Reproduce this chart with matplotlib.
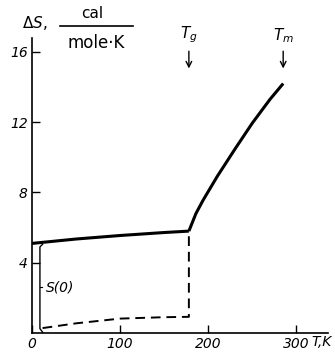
import matplotlib
matplotlib.use("Agg")
import matplotlib.pyplot as plt

# glass curve (solid): entropy of the glass / liquid
glass_T = [0, 50, 100, 150, 178]
glass_S = [5.1, 5.35, 5.55, 5.72, 5.8]
liquid_T = [178, 186, 194, 210, 230, 250, 270, 285]
liquid_S = [5.8, 6.8, 7.55, 8.9, 10.45, 11.95, 13.3, 14.2]

# crystal curve (dashed)
cryst_T = [12, 50, 100, 150, 178, 178]
cryst_S = [0.28, 0.55, 0.82, 0.9, 0.92, 5.8]

x_ticks = [0, 100, 200, 300]
y_ticks = [4, 8, 12, 16]
Tg = 178
Tm = 285


def main():
    fig = plt.figure(figsize=(3.35, 3.56), dpi=100)
    ax = fig.add_axes([0.0955, 0.0646, 0.884, 0.829])

    ax.plot(glass_T, glass_S, color='black', lw=2.2, solid_capstyle='butt')
    ax.plot(liquid_T, liquid_S, color='black', lw=2.2, solid_capstyle='butt')
    ax.plot(cryst_T, cryst_S, color='black', lw=1.4, ls=(0, (5, 3)))

    # brace for S(0)
    ax.plot([12, 9, 9, 9, 12], [0.05, 0.25, 0.6, 4.9, 5.05], color='black', lw=1.0)
    ax.plot([9, 11], [2.6, 2.6], color='black', lw=0.8)
    ax.text(16, 2.6, 'S(0)', style='italic', fontsize=10, va='center', ha='left')

    ax.set_xlim(0, 336)
    ax.set_ylim(0, 16.8)
    ax.set_xticks(x_ticks)
    ax.set_yticks(y_ticks)
    ax.set_xticklabels([str(t) for t in x_ticks], style='italic', fontsize=10)
    ax.set_yticklabels([str(t) for t in y_ticks], style='italic', fontsize=10)
    ax.tick_params(direction='in', length=6, width=1, pad=3)
    ax.spines['top'].set_visible(False)
    ax.spines['right'].set_visible(False)
    ax.spines['left'].set_linewidth(1.2)
    ax.spines['bottom'].set_linewidth(1.2)

    # axis labels
    fig.text(0.93, 0.058, 'T,K', style='italic', fontsize=10, ha='left', va='top')
    fig.text(0.066, 0.935, r'$\Delta S$,', fontsize=11, ha='left', va='center',
             math_fontfamily='dejavusans')
    fig.text(0.275, 0.963, 'cal', fontsize=11, ha='center', va='center')
    fig.text(0.287, 0.879, 'mole·K', fontsize=12, ha='center', va='center')
    fig.add_artist(plt.Line2D([0.179, 0.397], [0.927, 0.927], color='black', lw=1.2))

    # Tg and Tm markers
    for T, lab in [(Tg, r'$T_g$'), (Tm, r'$T_m$')]:
        ax.annotate('', xy=(T, 14.9), xytext=(T, 16.2),
                    arrowprops=dict(arrowstyle='->', color='black', lw=1))
        ax.text(T, 16.4, lab, fontsize=11, ha='center', va='bottom',
                math_fontfamily='dejavusans')

    fig.savefig('out.png', dpi=100)


if __name__ == "__main__":
    main()
